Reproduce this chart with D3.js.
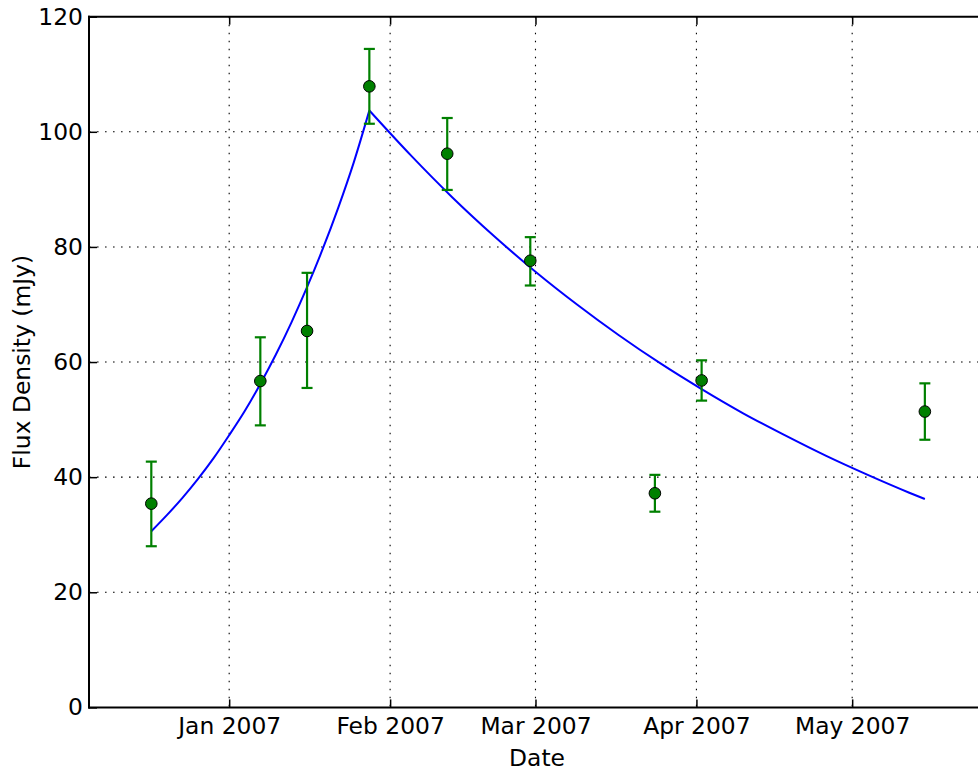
<!DOCTYPE html>
<html>
<head>
<meta charset="utf-8">
<script src="https://cdn.jsdelivr.net/npm/d3@7"></script>
<style>
  html, body { margin: 0; padding: 0; background: #fff; }
  svg { display: block; }
  text { font-family: "DejaVu Sans", sans-serif; fill: #000; }
</style>
</head>
<body>
<svg id="chart" width="978" height="775"></svg>
<script>
// ---- data ----
const obsDates = ["2006-12-17","2007-01-07","2007-01-16","2007-01-28","2007-02-12","2007-02-28","2007-03-24","2007-04-02","2007-05-15"];
const obsFlux  = [35.4, 56.7, 65.4, 107.9, 96.2, 77.6, 37.2, 56.8, 51.4];
const obsLow   = [28.0, 49.0, 55.5, 101.4, 89.9, 73.3, 34.0, 53.3, 46.5];
const obsHigh  = [42.7, 64.3, 75.5, 114.4, 102.4, 81.7, 40.4, 60.3, 56.3];

const fitDates = ["2006-12-17","2006-12-20","2006-12-23","2006-12-26","2006-12-29","2007-01-01","2007-01-04","2007-01-07","2007-01-10","2007-01-13","2007-01-16","2007-01-19","2007-01-22","2007-01-25","2007-01-28",
                  "2007-02-05","2007-02-13","2007-02-21","2007-03-01","2007-03-09","2007-03-17","2007-03-25","2007-04-02","2007-04-10","2007-04-18","2007-04-26","2007-05-04","2007-05-12","2007-05-15"];
const fitFlux  = [30.6, 33.4, 36.4, 39.7, 43.3, 47.3, 51.5, 56.2, 61.3, 66.9, 73.0, 79.6, 86.8, 94.7, 103.7,
                  95.9, 88.6, 81.9, 75.7, 70.0, 64.7, 59.8, 55.3, 51.1, 47.3, 43.7, 40.4, 37.3, 36.2];

const xTickDates  = ["2007-01-01","2007-02-01","2007-03-01","2007-04-01","2007-05-01"];
const xTickLabels = ["Jan 2007","Feb 2007","Mar 2007","Apr 2007","May 2007"];
const yTicks      = [0, 20, 40, 60, 80, 100, 120];
const yDomain     = [0, 120];
const xDomain     = ["2006-12-05","2007-05-31"];

(function () {
// ---- layout ----
const parse = d3.utcParse("%Y-%m-%d");
const pL = 89, pT = 16.7, pB = 707.4;
const pxPerDay = 623 / 120;           // Jan 1 -> May 1 spans 623 px
const xLeftDate = parse(xDomain[0]), xRightDate = parse(xDomain[1]);
const pR = pL + (xRightDate - xLeftDate) / 864e5 * pxPerDay;

const x = d3.scaleUtc().domain([xLeftDate, xRightDate]).range([pL, pR]);
const y = d3.scaleLinear().domain(yDomain).range([pB, pT]);

const svg = d3.select("#chart");
const fontSize = 23.4;
const tickLen = 8;

// grid
const grid = svg.append("g").attr("stroke", "#000").attr("stroke-width", 1.1)
  .attr("stroke-dasharray", "1.6,6.4");
xTickDates.forEach(d => {
  const xx = x(parse(d));
  grid.append("line").attr("x1", xx).attr("x2", xx).attr("y1", pT).attr("y2", pB);
});
yTicks.forEach(v => {
  if (v === yDomain[0] || v === yDomain[1]) return;
  grid.append("line").attr("x1", pL).attr("x2", pR).attr("y1", y(v)).attr("y2", y(v));
});

// fit curve
const fit = fitDates.map((d, i) => ({ d: parse(d), v: fitFlux[i] }));
const lineGen = d3.line().x(p => x(p.d)).y(p => y(p.v)).curve(d3.curveMonotoneX);
svg.append("path").attr("d", lineGen(fit.slice(0, 15)))
  .attr("fill", "none").attr("stroke", "#0000ff").attr("stroke-width", 2);
svg.append("path").attr("d", lineGen(fit.slice(14)))
  .attr("fill", "none").attr("stroke", "#0000ff").attr("stroke-width", 2);

// error bars + markers
const obs = obsDates.map((d, i) => ({ d: parse(d), v: obsFlux[i], lo: obsLow[i], hi: obsHigh[i] }));
const eb = svg.append("g").attr("stroke", "#008000").attr("stroke-width", 2.2);
obs.forEach(o => {
  const xx = x(o.d);
  eb.append("line").attr("x1", xx).attr("x2", xx).attr("y1", y(o.lo)).attr("y2", y(o.hi));
  eb.append("line").attr("x1", xx - 5.5).attr("x2", xx + 5.5).attr("y1", y(o.lo)).attr("y2", y(o.lo));
  eb.append("line").attr("x1", xx - 5.5).attr("x2", xx + 5.5).attr("y1", y(o.hi)).attr("y2", y(o.hi));
});
svg.append("g").selectAll("circle").data(obs).join("circle")
  .attr("cx", o => x(o.d)).attr("cy", o => y(o.v)).attr("r", 5.8)
  .attr("fill", "#008000").attr("stroke", "#000").attr("stroke-width", 1);

// axes via d3 axis generators (inward ticks)
const xAxis = d3.axisBottom(x).tickValues(xTickDates.map(parse))
  .tickFormat((d, i) => xTickLabels[i]).tickSizeInner(-tickLen).tickSizeOuter(0).tickPadding(10);
const gx = svg.append("g").attr("transform", `translate(0,${pB})`).call(xAxis);
gx.select(".domain").remove();
gx.selectAll("line").attr("stroke", "#000").attr("stroke-width", 1.5);
gx.selectAll("text").attr("font-size", fontSize).attr("font-family", "DejaVu Sans, sans-serif").attr("fill", "#000");

const xAxisTop = d3.axisTop(x).tickValues(xTickDates.map(parse))
  .tickFormat("").tickSizeInner(-tickLen).tickSizeOuter(0);
const gxt = svg.append("g").attr("transform", `translate(0,${pT})`).call(xAxisTop);
gxt.select(".domain").remove();
gxt.selectAll("line").attr("stroke", "#000").attr("stroke-width", 1.5);

const yAxis = d3.axisLeft(y).tickValues(yTicks).tickFormat(d3.format("d"))
  .tickSizeInner(-tickLen).tickSizeOuter(0).tickPadding(6);
const gy = svg.append("g").attr("transform", `translate(${pL},0)`).call(yAxis);
gy.select(".domain").remove();
gy.selectAll("line").attr("stroke", "#000").attr("stroke-width", 1.5);
gy.selectAll("text").attr("font-size", fontSize).attr("font-family", "DejaVu Sans, sans-serif").attr("fill", "#000");

// spines
const sp = svg.append("g").attr("stroke", "#000").attr("stroke-width", 2).attr("fill", "none");
sp.append("line").attr("x1", pL).attr("x2", pL).attr("y1", pT - 1).attr("y2", pB + 1);
sp.append("line").attr("x1", pL - 1).attr("x2", pR).attr("y1", pB).attr("y2", pB);
sp.append("line").attr("x1", pL - 1).attr("x2", pR).attr("y1", pT).attr("y2", pT);
sp.append("line").attr("x1", pR).attr("x2", pR).attr("y1", pT).attr("y2", pB);

// axis labels
svg.append("text").attr("x", 537).attr("y", 766).attr("text-anchor", "middle")
  .attr("font-size", fontSize).text("Date");
svg.append("text").attr("transform", `translate(30,${(pT + pB) / 2}) rotate(-90)`)
  .attr("text-anchor", "middle").attr("font-size", fontSize).text("Flux Density (mJy)");
})();
</script>
</body>
</html>
